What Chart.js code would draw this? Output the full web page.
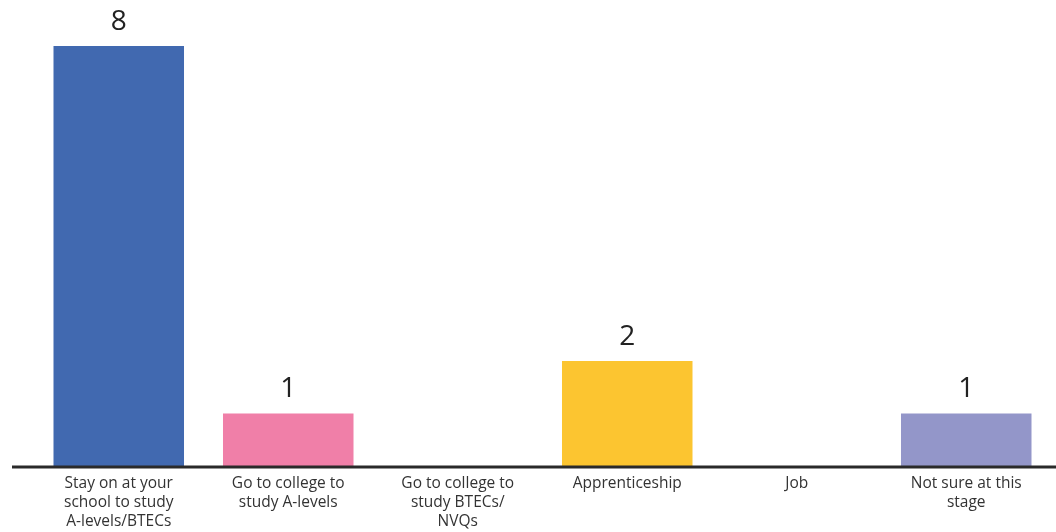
<!DOCTYPE html>
<html>
<head>
<meta charset="utf-8">
<script src="https://cdn.jsdelivr.net/npm/chart.js@4"></script>
<style>
  body { margin: 0; background: #fff; }
  #wrap { width: 1056px; height: 532px; }
</style>
</head>
<body>
<div id="wrap"><canvas id="chart" width="1056" height="532"></canvas></div>
<script>
const categories = [
    ['Stay on at your', 'school to study', 'A-levels/BTECs'],
    ['Go to college to', 'study A-levels'],
    ['Go to college to', 'study BTECs/', 'NVQs'],
    ['Apprenticeship'],
    ['Job'],
    ['Not sure at this', 'stage']
];
const counts = [8, 1, 0, 2, 0, 1];
const barColors = ['#4169b0', '#f07fa8', '#6fb7a3', '#fcc530', '#e07b54', '#9396c9'];

// value labels on top of bars
const valueLabels = {
    id: 'valueLabels',
    afterDatasetsDraw(chart) {
        const ctx = chart.ctx;
        const meta = chart.getDatasetMeta(0);
        ctx.save();
        ctx.font = '28px "Open Sans", sans-serif';
        ctx.fillStyle = '#222';
        ctx.textAlign = 'center';
        ctx.textBaseline = 'middle';
        meta.data.forEach((bar, i) => {
            if (counts[i] > 0) {
                ctx.fillText(String(counts[i]), bar.x, bar.y - 24);
            }
        });
        ctx.restore();
    }
};

// long baseline running nearly full width
const baseLine = {
    id: 'baseLine',
    afterDatasetsDraw(chart) {
        const ctx = chart.ctx;
        const y = chart.scales.y.getPixelForValue(0);
        ctx.save();
        ctx.strokeStyle = '#2a2a2a';
        ctx.lineWidth = 3;
        ctx.beginPath();
        ctx.moveTo(12, y + 1);
        ctx.lineTo(chart.width, y + 1);
        ctx.stroke();
        ctx.restore();
    }
};

new Chart(document.getElementById('chart').getContext('2d'), {
    type: 'bar',
    data: {
        labels: categories,
        datasets: [{
            data: counts,
            backgroundColor: barColors,
            borderWidth: 0,
            categoryPercentage: 1,
            barPercentage: 0.77
        }]
    },
    options: {
        responsive: false,
        animation: false,
        layout: { padding: { top: 46, left: 34, right: 5, bottom: 0 } },
        plugins: {
            legend: { display: false },
            tooltip: { enabled: false }
        },
        scales: {
            x: {
                grid: { display: false, drawTicks: false },
                border: { display: false },
                afterFit: (scale) => { scale.height = 66; },
                ticks: {
                    color: '#333',
                    padding: 8,
                    maxRotation: 0,
                    autoSkip: false,
                    font: { family: '"Open Sans", sans-serif', size: 15.5, lineHeight: 1.23 }
                }
            },
            y: {
                display: false,
                min: 0,
                max: 8
            }
        }
    },
    plugins: [valueLabels, baseLine]
});
</script>
</body>
</html>
